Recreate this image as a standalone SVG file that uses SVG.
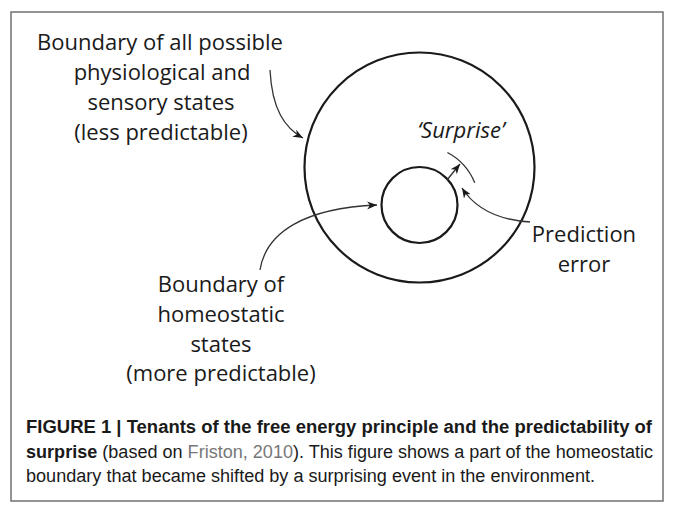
<svg xmlns="http://www.w3.org/2000/svg" width="678" height="514" viewBox="0 0 678 514">
<style>
.lbl{font-family:"Open Sans","Liberation Sans",sans-serif;font-size:22px;fill:#1a1a1a;text-anchor:middle}
.it{font-style:italic}
.ring{fill:none;stroke:#1a1a1a;stroke-width:2.2}
.con{fill:none;stroke:#333;stroke-width:1.3}
.cap{font-family:"Liberation Sans",Arial,sans-serif;font-size:18px;fill:#1a1a1a}
.b{font-weight:bold}
.g{fill:#777}
</style>
<defs>
<marker id="ah" markerUnits="userSpaceOnUse" markerWidth="12" markerHeight="10" refX="10" refY="4" orient="auto">
<path d="M0,0 L10,4 L0,8 L3,4 Z" fill="#1a1a1a"/>
</marker>
</defs>
<rect x="11" y="12" width="652" height="489" fill="#fff" stroke="#707070" stroke-width="1.5"/>
<g id="outer">
<circle class="ring" cx="419.5" cy="167.5" r="115"/>
<text class="lbl" x="160" y="50">Boundary of all possible</text>
<text class="lbl" x="162" y="80">physiological and</text>
<text class="lbl" x="161" y="110">sensory states</text>
<text class="lbl" x="161" y="140">(less predictable)</text>
</g>
<g id="inner">
<circle class="ring" cx="419.5" cy="205" r="38"/>
<text class="lbl" x="221" y="292">Boundary of</text>
<text class="lbl" x="221" y="322">homeostatic</text>
<text class="lbl" x="221" y="352">states</text>
<text class="lbl" x="221" y="381">(more predictable)</text>
</g>
<g id="surprise">
<path class="con" d="M447.4,152.5 A59.5,59.5 0 0,1 474.7,182.7" stroke-width="1"/>
<text class="lbl it" x="461" y="138">‘Surprise’</text>
</g>
<g id="prediction">
<text class="lbl" x="584" y="242">Prediction</text>
<text class="lbl" x="584" y="272">error</text>
</g>
<g id="connectors">
<path class="con" d="M270,70 C272,110 285,128 303,138" marker-end="url(#ah)"/>
<path class="con" d="M260,270 C266,232 305,208 377,205" marker-end="url(#ah)"/>
<path class="con" d="M447,180 L460,164" marker-end="url(#ah)" stroke-width="1.6"/>
<path class="con" d="M530,222 C500,220 476,210 462,188" marker-end="url(#ah)"/>
</g>
<g id="caption">
<text class="cap b" x="26" y="433" textLength="626" lengthAdjust="spacingAndGlyphs">FIGURE 1 | Tenants of the free energy principle and the predictability of</text>
<text class="cap" x="26" y="458" textLength="627" lengthAdjust="spacingAndGlyphs"><tspan class="b">surprise</tspan> (based on <tspan class="g">Friston, 2010</tspan>). This figure shows a part of the homeostatic</text>
<text class="cap" x="26" y="482" textLength="569" lengthAdjust="spacingAndGlyphs">boundary that became shifted by a surprising event in the environment.</text>
</g>
</svg>
